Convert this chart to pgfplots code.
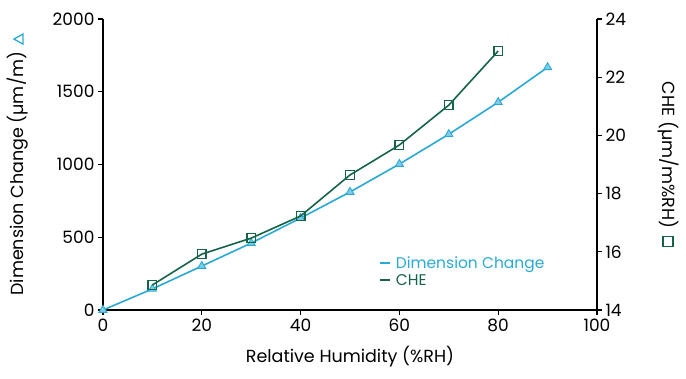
\documentclass[border=0pt]{standalone}
\usepackage{fontspec}
\setmainfont{Poppins}
\usepackage{pgfplots}
\pgfplotsset{compat=1.18}
\definecolor{dcblue}{RGB}{41,170,214}
\definecolor{chegreen}{RGB}{22,100,72}
\newcommand{\legdash}[1]{\textcolor{#1}{\rule[0.28em]{10pt}{1.8pt}}\hspace{6pt}}
\begin{document}
\begin{tikzpicture}
\useasboundingbox (-103pt,-68pt) rectangle (583pt,310pt);
\pgfplotsset{
  every axis/.append style={
    scale only axis, width=494pt, height=291pt,
    xmin=0, xmax=100,
    tick align=outside, major tick length=5pt,
    axis line style={-, line width=1.1pt, black},
    every tick/.style={black, line width=1.1pt},
    tick label style={font=\fontsize{17}{19}\selectfont},
    label style={font=\fontsize{17.5}{19}\selectfont},
    /pgf/number format/assume math mode=true,
    /pgf/number format/1000 sep={},
  }
}
\begin{axis}[
  at={(0,0)}, anchor=south west,
  axis x line*=bottom, axis y line*=left,
  ymin=0, ymax=2000,
  xtick={0,20,...,100}, ytick={0,500,...,2000},
  xlabel={Relative Humidity (\%RH)},
  xlabel style={at={(axis description cs:0.5,0)}, anchor=center, yshift=-47pt},
  ylabel={Dimension Change (µm/m)\hspace{7pt}\tikz[baseline=-1pt]\draw[dcblue,line width=1.3pt] (0,0)--(10pt,0)--(5pt,9pt)--cycle;},
  ylabel style={at={(axis description cs:-0.172,0.5)}, anchor=center},
  legend style={draw=none, fill=none, at={(axis cs:55,398)}, anchor=north west,
    font=\fontsize{15.5}{17}\selectfont, row sep=1pt,
    /tikz/every even column/.append style={column sep=0pt}},
  legend cell align=left,
  legend image code/.code={},
]
\addplot[dcblue, line width=1.6pt, mark=triangle*, mark options={solid, fill=dcblue!60, line width=0.9pt}, mark size=4.6pt] coordinates {
(0,0) (10,145) (20,302) (30,460) (40,632) (50,811) (60,1003) (70,1208) (80,1428) (90,1668)
};
\addlegendentry{\legdash{dcblue}\textcolor{dcblue}{Dimension Change}}
\addlegendimage{chegreen}
\addlegendentry{\legdash{chegreen}\textcolor{chegreen}{CHE}}
\end{axis}
\begin{axis}[
  at={(0,0)}, anchor=south west,
  axis y line*=right, axis x line=none,
  ymin=14, ymax=24, ytick={14,16,...,24},
  ylabel={CHE (µm/m\%RH)\hspace{7pt}\tikz[baseline=-1pt]\draw[chegreen,line width=1.5pt] (0,0) rectangle (10pt,10pt);},
  ylabel style={at={(axis description cs:1.1437,0.5)}, anchor=center, rotate=180},
]
\addplot[chegreen, line width=1.6pt, mark=square, mark options={solid, line width=1.3pt}, mark size=4.3pt] coordinates {
(10,14.86) (20,15.92) (30,16.47) (40,17.23) (50,18.64) (60,19.67) (70,21.04) (80,22.9)
};
\end{axis}
\end{tikzpicture}
\end{document}
